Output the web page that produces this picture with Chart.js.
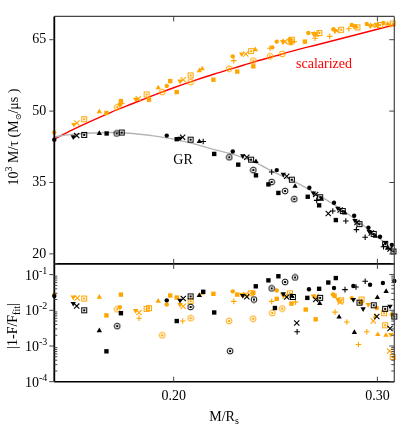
<!DOCTYPE html>
<html>
<head>
<meta charset="utf-8">
<script src="https://cdn.jsdelivr.net/npm/chart.js@4.4.0/dist/chart.umd.min.js"></script>
<style>
  html, body { margin: 0; padding: 0; background: #fff; }
</style>
</head>
<body>
<canvas id="massChart" width="420" height="441"></canvas>
<script>
// axes
var xTicks = [0.20, 0.30];
var yTopTicks = [20, 35, 50, 65];
var yBotTicks = [1e-4, 1e-3, 1e-2, 1e-1];
var yBotExp = ["-4", "-3", "-2", "-1"];

// fit curves
var fitX = [0.1414, 0.15, 0.16, 0.17, 0.18, 0.19, 0.20, 0.21, 0.22, 0.23, 0.24, 0.25, 0.26, 0.27, 0.28, 0.29, 0.30, 0.3083];
var scalarFit = [44.1, 46.0, 48.0, 49.9, 51.6, 53.3, 54.9, 56.4, 57.8, 59.1, 60.4, 61.6, 62.8, 63.9, 65.0, 66.1, 67.2, 68.1];
var grFit = [44.6, 45.1, 45.4, 45.5, 45.3, 44.8, 44.1, 43.1, 41.9, 40.8, 39.2, 37.0, 35.0, 32.6, 30.0, 27.0, 23.6, 20.6];

// top panel, scalarized (orange)
var oFilledCircle = [[0.1414,45.5],[0.1736,51.4],[0.1966,55.3],[0.2290,61.5],[0.2484,63.4],[0.2506,64.6],[0.2661,66.4],[0.2784,67.2],[0.2874,68.1],[0.2948,68.3],[0.3030,68.5]];
var oFilledSquare = [[0.1670,49.6],[0.1741,52.1],[0.1879,52.4],[0.1983,56.3],[0.2015,54.0],[0.2195,56.6],[0.2312,58.3],[0.2391,59.4],[0.2571,65.0],[0.2574,64.3],[0.2644,64.6],[0.2890,67.8],[0.2997,68.1]];
var oOpenCircle = [[0.1723,50.8],[0.1944,54.0],[0.2083,56.1],[0.2272,58.9],[0.2391,60.6],[0.2473,61.5],[0.2533,62.0]];
var oOpenSquare = [[0.1561,48.3],[0.1867,53.5],[0.2083,57.5],[0.2380,62.6],[0.2580,65.0],[0.2715,66.4],[0.2822,67.1],[0.2902,67.6],[0.3013,68.1],[0.3075,68.4]];
var oTriUp = [[0.1635,49.9],[0.1924,54.9],[0.2126,58.5],[0.2140,58.9],[0.2401,62.9],[0.2700,66.0],[0.3050,68.3]];
var oTriDown = [[0.1510,47.2],[0.1813,52.5],[0.2031,56.3],[0.2334,62.0],[0.2535,64.6],[0.2686,66.3],[0.2792,66.9],[0.2964,67.9]];
var oCross = [[0.1525,47.5],[0.1826,52.6],[0.2047,56.6],[0.2354,62.0],[0.2547,64.6],[0.2700,66.2],[0.2801,66.9],[0.2977,68.0]];
var oPlus = [[0.1745,51.6],[0.2295,60.6],[0.2473,63.2],[0.2591,64.6],[0.2694,65.3],[0.2766,65.7],[0.2860,67.3],[0.3063,68.1]];

// top panel, GR (black)
var kFilledCircle = [[0.1414,44.0],[0.1966,44.85],[0.2290,41.5],[0.2506,37.6],[0.2666,33.9],[0.2787,30.75],[0.2886,28.0],[0.2956,25.5],[0.3013,23.6],[0.3071,21.9]];
var kFilledSquare = [[0.1671,45.3],[0.2015,44.1],[0.2199,41.0],[0.2317,38.75],[0.2404,36.5],[0.2465,34.6],[0.2514,32.8],[0.2658,32.0],[0.2714,30.2],[0.2796,27.1]];
var kOpenCircle = [[0.1720,45.3],[0.2273,40.3],[0.2391,37.6],[0.2481,35.1],[0.2547,33.2],[0.2592,31.5]];
var kOpenSquare = [[0.1561,45.0],[0.1745,45.5],[0.2083,44.0],[0.2380,39.8],[0.2580,35.6],[0.2719,31.9],[0.2830,29.0],[0.2912,26.25],[0.2982,24.2],[0.3038,22.1],[0.3079,20.5]];
var kTriUp = [[0.1635,45.3],[0.2126,43.6],[0.2404,39.4],[0.2596,34.2],[0.2725,31.5],[0.2840,28.6],[0.2990,23.7],[0.3050,21.2]];
var kTriDown = [[0.1507,44.6],[0.2031,44.3],[0.2339,40.6],[0.2538,36.7],[0.2686,32.8],[0.2806,29.6],[0.2890,27.0],[0.2960,24.7],[0.3040,22.4]];
var kCross = [[0.1524,44.85],[0.2044,44.5],[0.2359,40.3],[0.2555,36.3],[0.2697,32.5],[0.2759,28.5],[0.2817,29.2],[0.2900,26.6],[0.2970,24.4],[0.3062,21.0]];
var kPlus = [[0.2145,43.6],[0.2481,37.2],[0.2702,31.25],[0.2781,29.0],[0.2845,26.9],[0.2897,25.1],[0.2940,23.5],[0.3030,21.5]];

// bottom panel |1-F/Ffit|, scalarized (orange)
var boFilledCircle = [[0.1414,0.0275],[0.1736,0.0123],[0.1966,0.0145],[0.2290,0.034],[0.2506,0.036],[0.2782,0.028],[0.2874,0.022],[0.2997,0.0116],[0.3071,0.0076]];
var boFilledSquare = [[0.1670,0.0072],[0.1741,0.0275],[0.1983,0.026],[0.2015,0.0228],[0.2195,0.029],[0.2312,0.0275],[0.2391,0.031],[0.2506,0.021],[0.2578,0.0154],[0.2648,0.0105],[0.2697,0.0056],[0.2790,0.0255],[0.2920,0.0165]];
var boOpenCircle = [[0.1723,0.0107],[0.1944,0.0020],[0.2083,0.0060],[0.2272,0.0050],[0.2390,0.0058],[0.2484,0.0084],[0.2533,0.0112]];
var boOpenSquare = [[0.1561,0.0214],[0.1867,0.0110],[0.1879,0.0115],[0.2083,0.0180],[0.2380,0.0300],[0.2571,0.0300],[0.2822,0.0190],[0.2922,0.0200],[0.3033,0.0083],[0.3038,0.0038],[0.3075,0.00049]];
var boTriUp = [[0.1635,0.0234],[0.1924,0.0180],[0.2126,0.0260],[0.2140,0.0300],[0.2990,0.0068],[0.3002,0.0021],[0.3042,0.0020]];
var boTriDown = [[0.1507,0.0234],[0.1813,0.0098],[0.2031,0.0145],[0.2334,0.0275],[0.2535,0.0275],[0.2686,0.0250],[0.2806,0.0200],[0.2955,0.0145],[0.3066,0.0021]];
var boCross = [[0.1527,0.0221],[0.1830,0.0087],[0.2047,0.0130],[0.2354,0.0275],[0.2547,0.0250],[0.2700,0.0240],[0.2817,0.0170],[0.2980,0.0050],[0.3060,0.00072]];
var boPlus = [[0.1830,0.0060],[0.2044,0.0050],[0.2295,0.0178],[0.2481,0.0178],[0.2598,0.0170],[0.2792,0.0089],[0.2850,0.0047],[0.2907,0.0011],[0.2948,0.0025]];

// bottom panel, GR (black)
var bkFilledCircle = [[0.1414,0.025],[0.1966,0.019],[0.2664,0.039],[0.2787,0.042],[0.2882,0.048],[0.2964,0.052],[0.3027,0.058],[0.3083,0.066]];
var bkFilledSquare = [[0.1670,0.00071],[0.1741,0.0083],[0.2015,0.0050],[0.2145,0.033],[0.2199,0.0087],[0.2403,0.047],[0.2465,0.069],[0.2497,0.0116],[0.2514,0.090],[0.2656,0.0223],[0.2714,0.040],[0.2759,0.060],[0.2796,0.080]];
var bkOpenCircle = [[0.1723,0.0036],[0.2083,0.0124],[0.2277,0.00072],[0.2394,0.020],[0.2481,0.041],[0.2547,0.062],[0.2596,0.083]];
var bkOpenSquare = [[0.1561,0.0100],[0.2083,0.0245],[0.2585,0.0236],[0.2719,0.0223],[0.2912,0.0164],[0.2982,0.0138],[0.3038,0.0110],[0.3083,0.0067]];
var bkTriUp = [[0.1635,0.0027],[0.2126,0.0260],[0.2580,0.0250],[0.2717,0.0155],[0.2812,0.0065],[0.2887,0.0024],[0.3000,0.0228],[0.3043,0.034]];
var bkTriDown = [[0.1507,0.0155],[0.2031,0.0190],[0.2339,0.0260],[0.2538,0.0290],[0.2882,0.0200],[0.2930,0.0110],[0.3062,0.0130]];
var bkCross = [[0.1524,0.0131],[0.2047,0.0214],[0.2359,0.0240],[0.2555,0.0236],[0.2604,0.0044],[0.2697,0.0200],[0.2997,0.0067],[0.3062,0.0031]];
var bkPlus = [[0.2606,0.0025],[0.2841,0.038],[0.2895,0.045],[0.2940,0.065]];

var ORANGE = "#ffa500";
var BLACK = "#000000";
var SERIF = '"Liberation Serif", "DejaVu Serif", serif';

// small canvases for the dotted ring / dotted box markers
function makeMarker(kind, color) {
  var c = document.createElement("canvas");
  c.width = 8;
  c.height = 8;
  var g = c.getContext("2d");
  g.strokeStyle = color;
  g.fillStyle = color;
  g.lineWidth = 1;
  if (kind == "ring") {
    g.beginPath();
    g.arc(4, 4, 2.9, 0, 2 * Math.PI);
    g.stroke();
  } else {
    g.strokeRect(1.5, 1.5, 5, 5);
  }
  g.fillRect(3, 3, 2, 2);
  return c;
}

function pts(arr) {
  return arr.map(function (p) { return { x: p[0], y: p[1] }; });
}

function markerSet(arr, axis, color, kind) {
  var ds = {
    type: "scatter",
    data: pts(arr),
    yAxisID: axis,
    clip: false,
    order: 0,
    borderColor: color,
    backgroundColor: color,
    pointBorderWidth: 0,
    pointRadius: 2.2,
    pointRotation: 0
  };
  if (kind == "dot") { ds.pointStyle = "circle"; ds.pointRadius = 2.2; }
  if (kind == "box") { ds.pointStyle = "rect"; ds.pointRadius = 3.1; }
  if (kind == "ring") { ds.pointStyle = makeMarker("ring", color); }
  if (kind == "frame") { ds.pointStyle = makeMarker("frame", color); }
  if (kind == "tri") { ds.pointStyle = "triangle"; ds.pointRadius = 3.1; }
  if (kind == "triDown") { ds.pointStyle = "triangle"; ds.pointRadius = 3.1; ds.pointRotation = 180; }
  if (kind == "cross") { ds.pointStyle = "crossRot"; ds.pointRadius = 3.7; ds.pointBorderWidth = 1.1; }
  if (kind == "plus") { ds.pointStyle = "cross"; ds.pointRadius = 2.8; ds.pointBorderWidth = 1.1; }
  return ds;
}

function fitLine(ys, color) {
  return {
    type: "scatter",
    data: fitX.map(function (x, i) { return { x: x, y: ys[i] }; }),
    yAxisID: "y",
    showLine: true,
    borderColor: color,
    borderWidth: 1.4,
    pointRadius: 0,
    cubicInterpolationMode: "monotone",
    clip: false,
    order: 5
  };
}

var datasets = [
  fitLine(grFit, "#b4b4b4"),
  fitLine(scalarFit, "#ff0000"),
  markerSet(kFilledCircle, "y", BLACK, "dot"),
  markerSet(kFilledSquare, "y", BLACK, "box"),
  markerSet(kOpenCircle, "y", BLACK, "ring"),
  markerSet(kOpenSquare, "y", BLACK, "frame"),
  markerSet(kTriUp, "y", BLACK, "tri"),
  markerSet(kTriDown, "y", BLACK, "triDown"),
  markerSet(kCross, "y", BLACK, "cross"),
  markerSet(kPlus, "y", BLACK, "plus"),
  markerSet(oFilledCircle, "y", ORANGE, "dot"),
  markerSet(oFilledSquare, "y", ORANGE, "box"),
  markerSet(oOpenCircle, "y", ORANGE, "ring"),
  markerSet(oOpenSquare, "y", ORANGE, "frame"),
  markerSet(oTriUp, "y", ORANGE, "tri"),
  markerSet(oTriDown, "y", ORANGE, "triDown"),
  markerSet(oCross, "y", ORANGE, "cross"),
  markerSet(oPlus, "y", ORANGE, "plus"),
  markerSet(bkFilledCircle, "yb", BLACK, "dot"),
  markerSet(bkFilledSquare, "yb", BLACK, "box"),
  markerSet(bkOpenCircle, "yb", BLACK, "ring"),
  markerSet(bkOpenSquare, "yb", BLACK, "frame"),
  markerSet(bkTriUp, "yb", BLACK, "tri"),
  markerSet(bkTriDown, "yb", BLACK, "triDown"),
  markerSet(bkCross, "yb", BLACK, "cross"),
  markerSet(bkPlus, "yb", BLACK, "plus"),
  markerSet(boFilledCircle, "yb", ORANGE, "dot"),
  markerSet(boFilledSquare, "yb", ORANGE, "box"),
  markerSet(boOpenCircle, "yb", ORANGE, "ring"),
  markerSet(boOpenSquare, "yb", ORANGE, "frame"),
  markerSet(boTriUp, "yb", ORANGE, "tri"),
  markerSet(boTriDown, "yb", ORANGE, "triDown"),
  markerSet(boCross, "yb", ORANGE, "cross"),
  markerSet(boPlus, "yb", ORANGE, "plus")
];

// text with sub/superscripts: parts = [text, size, shift]
function drawRich(ctx, parts, x, y, align, angle) {
  var total = 0;
  parts.forEach(function (p) {
    ctx.font = p[1] + "px " + SERIF;
    total += ctx.measureText(p[0]).width;
  });
  ctx.save();
  ctx.translate(x, y);
  if (angle) ctx.rotate(angle);
  var pos = align == "right" ? -total : align == "center" ? -total / 2 : 0;
  ctx.textBaseline = "alphabetic";
  ctx.textAlign = "left";
  parts.forEach(function (p) {
    ctx.font = p[1] + "px " + SERIF;
    ctx.fillText(p[0], pos, p[2]);
    pos += ctx.measureText(p[0]).width;
  });
  ctx.restore();
}

function seg(ctx, x1, y1, x2, y2) {
  ctx.beginPath();
  ctx.moveTo(x1, y1);
  ctx.lineTo(x2, y2);
  ctx.stroke();
}

var framePlugin = {
  id: "frame",
  afterDatasetsDraw: function (chart) {
    var ctx = chart.ctx;
    var a = chart.chartArea;
    var sx = chart.scales.x, st = chart.scales.y, sb = chart.scales.yb;
    ctx.save();
    // top and right edges are a lighter grey than the left / bottom axes
    ctx.strokeStyle = "#444";
    ctx.lineWidth = 1.2;
    seg(ctx, a.left, a.top, a.right, a.top);
    seg(ctx, a.right, a.top, a.right, a.bottom);
    ctx.strokeStyle = "#000";
    ctx.lineWidth = 1.5;
    seg(ctx, a.left, a.bottom, a.right, a.bottom);
    ctx.lineWidth = 1.8;
    seg(ctx, a.left, sb.top, a.right, sb.top);
    seg(ctx, a.left, a.top, a.left, a.bottom);

    // ticks
    ctx.lineWidth = 1;
    ctx.strokeStyle = "#444";
    xTicks.forEach(function (v) {
      var px = sx.getPixelForValue(v);
      [[st.top, st.bottom], [sb.top, sb.bottom]].forEach(function (r) {
        seg(ctx, px, r[0], px, r[0] + 5);
        seg(ctx, px, r[1], px, r[1] - 5);
      });
    });
    yTopTicks.forEach(function (v) {
      var py = st.getPixelForValue(v);
      seg(ctx, a.left - 5, py, a.left, py);
      seg(ctx, a.right - 5, py, a.right, py);
    });
    yBotTicks.forEach(function (v, i) {
      var py = sb.getPixelForValue(v);
      seg(ctx, a.left - 5, py, a.left, py);
      seg(ctx, a.right - 5, py, a.right, py);
      for (var f = 2; f <= 9; f++) {
        var m = v * f;
        if (m > sb.max) break;
        var pm = sb.getPixelForValue(m);
        seg(ctx, a.left, pm, a.left + 3, pm);
        seg(ctx, a.right - 3, pm, a.right, pm);
      }
      ctx.fillStyle = "#000";
      drawRich(ctx, [["10", 14, 0], [yBotExp[i], 10, -6]], a.left - 7, py + 5, "right");
    });

    // labels
    ctx.fillStyle = "#000";
    drawRich(ctx, [["10", 14, 0], ["3", 10, -6], [" M/\u03c4 (M", 14, 0], ["\u2299", 8, 3], ["/\u03bcs )", 14, 0]], 18, 137, "center", -Math.PI / 2);
    drawRich(ctx, [["|1-F/F", 14, 0], ["fit", 10, 3], ["|", 14, 0]], 17, 326, "center", -Math.PI / 2);
    drawRich(ctx, [["M/R", 14, 0], ["s", 10, 3]], 224, 421, "center");

    ctx.fillStyle = "#ff0000";
    drawRich(ctx, [["scalarized", 14, 0]], sx.getPixelForValue(0.2738), st.getPixelForValue(59.8) + 4, "center");
    ctx.fillStyle = "#000";
    drawRich(ctx, [["GR", 14, 0]], sx.getPixelForValue(0.2046), st.getPixelForValue(39.9) + 5, "center");
    ctx.restore();
  }
};

new Chart(document.getElementById("massChart"), {
  type: "scatter",
  data: { datasets: datasets },
  plugins: [framePlugin],
  options: {
    responsive: false,
    animation: false,
    events: [],
    layout: { padding: { top: 14.3, right: 25.7, left: 0, bottom: 0 } },
    plugins: { legend: { display: false }, tooltip: { enabled: false } },
    scales: {
      x: {
        type: "linear",
        min: 0.1414,
        max: 0.3083,
        afterBuildTicks: function (s) { s.ticks = xTicks.map(function (v) { return { value: v }; }); },
        afterFit: function (s) { s.height = 59.3; },
        ticks: {
          callback: function (v) { return v.toFixed(2); },
          font: { family: SERIF, size: 14 },
          color: "#000",
          padding: 6,
          maxRotation: 0,
          autoSkip: false
        },
        grid: { display: false, drawTicks: false },
        border: { display: false }
      },
      yb: {
        type: "logarithmic",
        position: "left",
        stack: "panels",
        stackWeight: 1,
        min: 1e-4,
        max: 0.2,
        afterBuildTicks: function (s) { s.ticks = yBotTicks.map(function (v) { return { value: v }; }); },
        afterFit: function (s) { s.width = 54.3; },
        ticks: { display: false },
        grid: { display: false, drawTicks: false },
        border: { display: false }
      },
      y: {
        type: "linear",
        position: "left",
        stack: "panels",
        stackWeight: 2.1,
        min: 17.9,
        max: 69.9,
        afterBuildTicks: function (s) { s.ticks = yTopTicks.map(function (v) { return { value: v }; }); },
        afterFit: function (s) { s.width = 54.3; },
        ticks: {
          font: { family: SERIF, size: 14 },
          color: "#000",
          padding: 8,
          autoSkip: false
        },
        grid: { display: false, drawTicks: false },
        border: { display: false }
      }
    }
  }
});
</script>
</body>
</html>
